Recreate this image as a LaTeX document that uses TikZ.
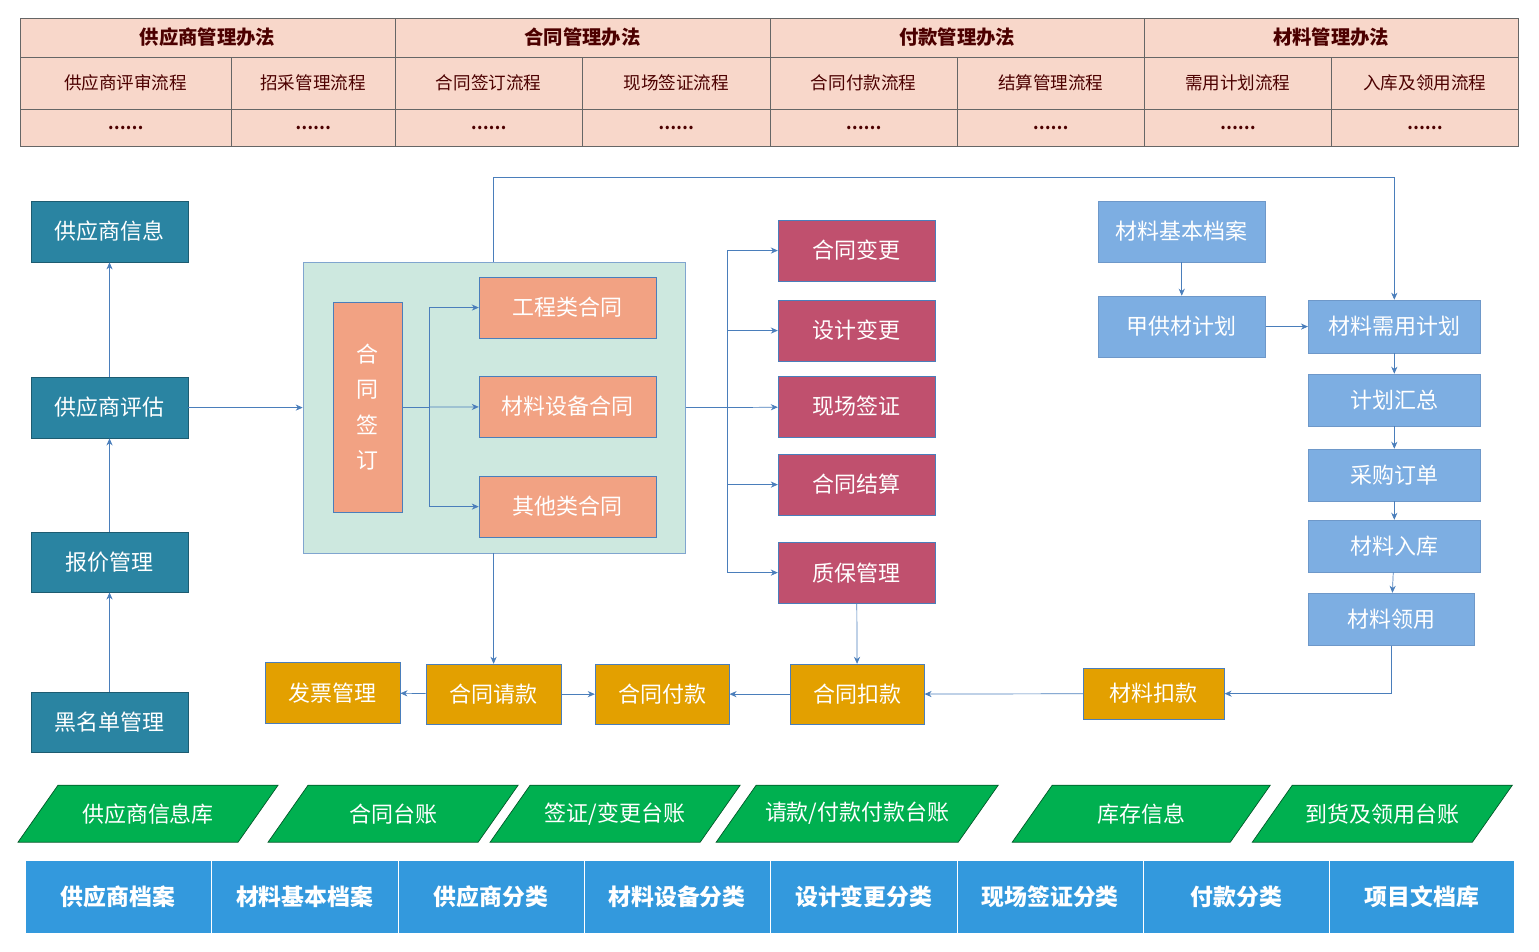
\documentclass[tikz,border=0pt]{standalone}
\usepackage{fontspec}
\setmainfont{Noto Sans CJK SC}
\usetikzlibrary{arrows.meta,calc}
\definecolor{peach}{HTML}{F8D7CA}
\definecolor{teal}{HTML}{2A84A2}
\definecolor{salmon}{HTML}{F2A283}
\definecolor{mauve}{HTML}{C0506E}
\definecolor{sky}{HTML}{7DAEE2}
\definecolor{amber}{HTML}{E3A000}
\definecolor{leaf}{HTML}{00B050}
\definecolor{azure}{HTML}{3399DD}
\definecolor{mint}{HTML}{CDE8DF}
\definecolor{wire}{HTML}{4A7EBB}
\tikzset{
  base/.style={draw, inner sep=0pt, text=white, font=\fontsize{12.5}{14}\selectfont},
  tbl/.style={draw=gray!80!black, fill=peach, inner sep=0pt, text=black!70!red, font=\fontsize{10}{12}\selectfont},
  tealbox/.style={base, fill=teal, draw=teal!70!black},
  salbox/.style={base, fill=salmon, draw=wire},
  maubox/.style={base, fill=mauve, draw=wire},
  skybox/.style={base, fill=sky, draw=wire!80!white},
  ambbox/.style={base, fill=amber, draw=wire},
  azbox/.style={base, fill=azure, draw=white, font=\bfseries\fontsize{13}{15}\selectfont},
  arr/.style={draw=wire, -{Stealth[length=4pt,width=3.5pt]}},
  line/.style={draw=wire}
}
% box from pixel corners: name, style, x1, y1, x2, y2, text
\newcommand{\bx}[7]{%
  \pgfmathsetmacro\bxcx{(#3+#5)/2*0.02}\pgfmathsetmacro\bxcy{-(#4+#6)/2*0.02}%
  \pgfmathsetmacro\bxw{(#5-#3)*0.02}\pgfmathsetmacro\bxh{(#6-#4)*0.02}%
  \node[#2, minimum width=\bxw cm, minimum height=\bxh cm] (#1) at (\bxcx,\bxcy) {#7};}
% slanted box: x1, x2, text
\newcommand{\slant}[3]{%
  \fill[leaf, draw=leaf!50!black] (#1*0.02,-842*0.02) -- (#1*0.02+40*0.02,-785*0.02)
     -- (#2*0.02,-785*0.02) -- (#2*0.02-40*0.02,-842*0.02) -- cycle;
  \node[text=white, font=\fontsize{12.5}{14}\selectfont] at ({(#1+#2)/2*0.02},{-813.5*0.02}) {#3};}
\begin{document}
\begin{tikzpicture}
\useasboundingbox (0,0) rectangle (30.78,-19.02);
% Top table
\bx{m1}{tbl, font=\bfseries\fontsize{11}{13}\selectfont}{20}{18}{395}{57}{供应商管理办法}
\bx{m2}{tbl, font=\bfseries\fontsize{11}{13}\selectfont}{395}{18}{770}{57}{合同管理办法}
\bx{m3}{tbl, font=\bfseries\fontsize{11}{13}\selectfont}{770}{18}{1144}{57}{付款管理办法}
\bx{m4}{tbl, font=\bfseries\fontsize{11}{13}\selectfont}{1144}{18}{1518}{57}{材料管理办法}
\foreach \xa/\xb/\t [count=\i] in {20/231/供应商评审流程, 231/395/招采管理流程, 395/582/合同签订流程, 582/770/现场签证流程, 770/957/合同付款流程, 957/1144/结算管理流程, 1144/1331/需用计划流程, 1331/1518/入库及领用流程}{
  \bx{p\i}{tbl}{\xa}{57}{\xb}{109}{\t}
  \bx{q\i}{tbl, font=\bfseries\fontsize{9}{10}\selectfont}{\xa}{109}{\xb}{146}{……}
}
% Supplier column
\bx{sinfo}{tealbox}{31}{201}{188}{262}{供应商信息}
\bx{seval}{tealbox}{31}{377}{188}{438}{供应商评估}
\bx{quote}{tealbox}{31}{532}{188}{592}{报价管理}
\bx{black}{tealbox}{31}{692}{188}{752}{黑名单管理}
% Contract signing
\bx{sign}{fill=mint, draw=wire!70!white, inner sep=0pt}{303}{262}{685}{553}{}
\bx{hq}{salbox, align=center, font=\fontsize{12.5}{20}\selectfont}{333}{302}{402}{512}{合\\同\\签\\订}
\bx{gc}{salbox}{479}{277}{656}{338}{工程类合同}
\bx{cs}{salbox}{479}{376}{656}{437}{材料设备合同}
\bx{qt}{salbox}{479}{476}{656}{537}{其他类合同}
% Contract follow-up
\bx{bg}{maubox}{778}{220}{935}{281}{合同变更}
\bx{sj}{maubox}{778}{300}{935}{361}{设计变更}
\bx{xc}{maubox}{778}{376}{935}{437}{现场签证}
\bx{js}{maubox}{778}{454}{935}{515}{合同结算}
\bx{zb}{maubox}{778}{542}{935}{603}{质保管理}
% Materials
\bx{mda}{skybox}{1098}{201}{1265}{262}{材料基本档案}
\bx{jg}{skybox}{1098}{296}{1265}{357}{甲供材计划}
\bx{xy}{skybox}{1308}{300}{1480}{353}{材料需用计划}
\bx{hz}{skybox}{1308}{374}{1480}{426}{计划汇总}
\bx{cg}{skybox}{1308}{449}{1480}{501}{采购订单}
\bx{rk}{skybox}{1308}{520}{1480}{572}{材料入库}
\bx{ly}{skybox}{1308}{593}{1474}{645}{材料领用}
% Payment row
\bx{fp}{ambbox}{265}{662}{400}{723}{发票管理}
\bx{qk}{ambbox}{426}{664}{561}{724}{合同请款}
\bx{fk}{ambbox}{595}{664}{729}{724}{合同付款}
\bx{kk}{ambbox}{790}{664}{924}{724}{合同扣款}
\bx{mk}{ambbox}{1083}{668}{1224}{719}{材料扣款}
% Ledgers
\slant{18}{278}{供应商信息库}
\slant{268}{518}{合同台账}
\slant{490}{740}{签证/变更台账}
\slant{716}{998}{请款/付款付款台账}
\slant{1012}{1270}{库存信息}
\slant{1252}{1512}{到货及领用台账}
% Base data
\foreach \xa/\xb/\t [count=\i] in {25/211/供应商档案, 211/398/材料基本档案, 398/584/供应商分类, 584/770/材料设备分类, 770/957/设计变更分类, 957/1143/现场签证分类, 1143/1329/付款分类, 1329/1514/项目文档库}{
  \bx{b\i}{azbox}{\xa}{860}{\xb}{933}{\t}
}
% Edges
\draw[arr] (seval) -- (sinfo);
\draw[arr] (quote) -- (seval);
\draw[arr] (black) -- (quote);
\draw[arr] (seval) -- (sign);
\coordinate (hub) at ($(hq.east)+(0.54,0)$);
\draw[line] (hq.east) -- (hub);
\draw[arr] (hub) |- (gc);
\draw[arr] (hub) -- (cs);
\draw[arr] (hub) |- (qt);
\coordinate (fan) at ($(sign.east)+(0.84,0)$);
\draw[line] (sign.east) -- (fan);
\foreach \t in {bg,sj,zb,js}{\draw[arr] (fan) |- (\t);}
\draw[arr] (fan) -- (xc);
\draw[arr] (sign.north -| qk) -- ++(0,1.68) -| (xy);
\draw[arr] (mda) -- (jg);
\draw[arr] (jg) -- (xy);
\draw[arr] (xy) -- (hz);
\draw[arr] (hz) -- (cg);
\draw[arr] (cg) -- (rk);
\draw[arr] (rk) -- (ly);
\draw[arr] (ly) |- (mk);
\draw[arr] (mk) -- (kk);
\draw[arr] (kk) -- (fk);
\draw[arr] (qk) -- (fk);
\draw[arr] (qk) -- (fp);
\draw[arr] (zb) -- (kk);
\draw[arr] (sign.south -| qk) -- (qk);
\end{tikzpicture}
\end{document}
